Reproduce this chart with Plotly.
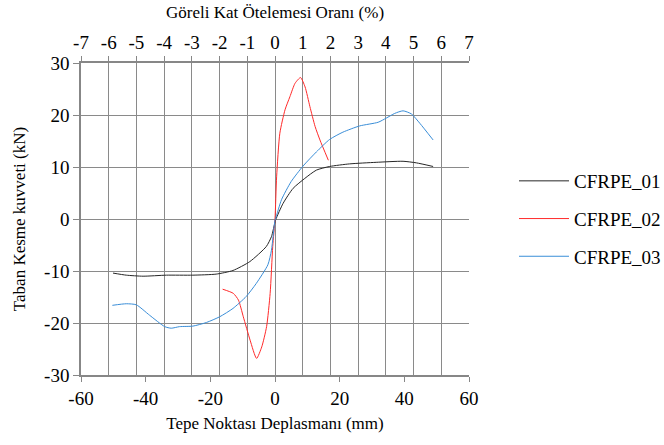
import plotly.graph_objects as go

# CFRPE_01 (black)
x1 = [-50.1, -46, -40.8, -33.6, -25.4, -18.2, -13, -7.8, -2.7, -1.1, 0.2, 2.5, 5.6, 9.2, 12.8, 16.9, 23.1, 31.3, 39.6, 43.7, 48.9]
y1 = [-10.4, -10.8, -11, -10.8, -10.8, -10.6, -9.9, -8.2, -5.3, -3.4, -0.2, 3, 5.9, 7.8, 9.4, 10.1, 10.6, 10.9, 11.1, 10.8, 10.1]

# CFRPE_02 (red)
x2 = [-16.2, -12.9, -11.3, -9.8, -7.7, -5.7, -4.1, -2.6, -1.5, -0.7, 0, 0.5, 1.5, 3.1, 4.6, 6.2, 7.9, 9.3, 10.8, 12.4, 13.9, 16.5]
y2 = [-13.5, -14.3, -15.6, -18.8, -23.3, -26.8, -24.6, -20.7, -14.3, -5.3, 0, 8.1, 16.5, 21, 23.5, 26.1, 27.2, 25.4, 21.6, 17.8, 15.2, 11.3]

# CFRPE_03 (blue)
x3 = [-50.3, -46, -42.9, -38.8, -34.1, -32.1, -29.5, -25.4, -21.2, -17.1, -13, -8.9, -5.8, -2.2, -1.1, 0, 0.2, 2, 5, 8.7, 12.8, 16.9, 21, 26.2, 31.9, 34.4, 37, 39.6, 42.2, 44.8, 48.9]
y3 = [-16.6, -16.3, -16.5, -18.5, -20.7, -21, -20.7, -20.6, -19.9, -18.8, -17.2, -14.9, -12.4, -8.8, -6, -0.2, 0.1, 3.7, 7.2, 10.2, 12.9, 15.3, 16.7, 17.9, 18.6, 19.4, 20.3, 20.8, 20.2, 18.4, 15.2]

names = ["CFRPE_01", "CFRPE_02", "CFRPE_03"]
colors = ["#262626", "#ff2a2a", "#3a8ed8"]

# tick values / labels (hyphen minus as in the reference)
x_ticks = [-60, -40, -20, 0, 20, 40, 60]
x_labels = ["-60", "-40", "-20", "0", "20", "40", "60"]
drift_ticks = [-7, -6, -5, -4, -3, -2, -1, 0, 1, 2, 3, 4, 5, 6, 7]
drift_labels = ["-7", "-6", "-5", "-4", "-3", "-2", "-1", "0", "1", "2", "3", "4", "5", "6", "7"]
y_ticks = [-30, -20, -10, 0, 10, 20, 30]
y_labels = ["-30", "-20", "-10", "0", "10", "20", "30"]

font_family = "Times New Roman"
axis_color = "#878787"
grid_color = "#8a8a8a"
tfont = dict(family=font_family, size=19, color="black")
ttfont = dict(family=font_family, size=17, color="black")

fig = go.Figure()
for xs, ys, n, c in zip([x1, x2, x3], [y1, y2, y3], names, colors):
    fig.add_trace(go.Scatter(x=xs, y=ys, mode="lines", name=n, legendgroup=n,
                             line=dict(color=c, width=1, shape="spline", smoothing=0.6)))

# invisible trace to activate top drift axis
fig.add_trace(go.Scatter(x=[drift_ticks[0], drift_ticks[-1]], y=[0, 0], xaxis="x2", mode="lines",
                         line=dict(width=1, color="rgba(0,0,0,0)"), showlegend=False, hoverinfo="skip"))

fig.update_layout(
    width=664, height=445,
    margin=dict(l=81, r=195, t=63, b=70, autoexpand=False),
    paper_bgcolor="white", plot_bgcolor="white",
    font=dict(family=font_family, size=19, color="black"),
    xaxis=dict(range=[x_ticks[0], x_ticks[-1]], tickmode="array", tickvals=x_ticks, ticktext=x_labels,
               showgrid=False, zeroline=False,
               showline=True, linecolor=axis_color, linewidth=1.5,
               ticks="outside", ticklen=5, tickcolor=axis_color, tickwidth=1,
               tickfont=tfont,
               title=dict(text="Tepe Noktası Deplasmanı (mm)", font=ttfont, standoff=10)),
    xaxis2=dict(range=[drift_ticks[0], drift_ticks[-1]], tickmode="array", tickvals=drift_ticks,
                ticktext=drift_labels, overlaying="x", side="top",
                showgrid=True, gridcolor=grid_color, gridwidth=1.2, zeroline=False,
                showline=True, linecolor=axis_color, linewidth=1.5,
                ticks="outside", ticklen=5, tickcolor=axis_color, tickwidth=1,
                tickfont=tfont,
                title=dict(text="Göreli Kat Ötelemesi Oranı (%)", font=ttfont, standoff=9)),
    yaxis=dict(range=[y_ticks[0], y_ticks[-1]], tickmode="array", tickvals=y_ticks, ticktext=y_labels,
               showgrid=True, gridcolor=grid_color, gridwidth=1.2,
               zeroline=False, showline=True, linecolor=axis_color, linewidth=1.5,
               ticks="outside", ticklen=6, tickcolor=axis_color, tickwidth=1,
               tickfont=tfont,
               title=dict(text="Taban Kesme kuvveti (kN)", font=ttfont, standoff=14)),
    legend=dict(x=1.116, xanchor="left", y=0.5, yanchor="middle", traceorder="grouped",
                tracegroupgap=10, itemwidth=50, font=tfont,
                bgcolor="rgba(0,0,0,0)"),
)

fig.write_html("out.html")
